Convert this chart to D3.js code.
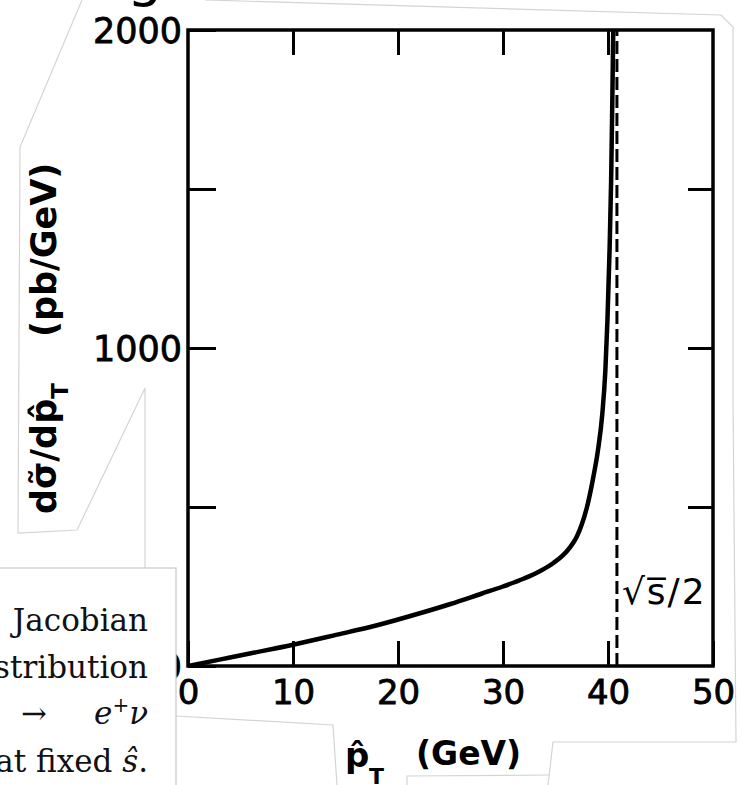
<!DOCTYPE html>
<html>
<head>
<meta charset="utf-8">
<script src="https://cdn.jsdelivr.net/npm/d3@7"></script>
<style>
  body { margin: 0; background: #fff; }
  svg { display: block; }
</style>
</head>
<body>
<div id="jacobian"></div>
<script>

// Jacobian peak of the W -> e nu transverse momentum spectrum

// Data
const xTicks = [0, 10, 20, 30, 40, 50];
const topTicks = [10, 20, 30, 40];
const yTicks = [0, 500, 1000, 1500, 2000];
const yTickLabels = [0, 1000, 2000];
const rightTicks = [500, 1000, 1500];

const ptValues = [0, 3, 6, 10, 14, 18, 22, 25, 28, 30, 32, 33.5, 34.8, 35.7, 36.4, 37.0, 37.5,
                  38.0, 38.55, 39.05, 39.45, 39.75, 39.95, 40.15, 40.3, 40.4, 40.5];
const rateValues = [0, 20, 40, 67, 97, 128, 165, 195, 228, 250, 275, 298, 324, 348, 374, 405, 445,
                    500, 585, 680, 790, 930, 1090, 1310, 1530, 1750, 2000];

// position of sqrt(s)/2
const edgeValue = 40.85;

const captionLines = ["Jacobian", "stribution"];

// Dimensions
const width = 742;
const height = 785;
const margin = {left: 188, right: 29, top: 30, bottom: 119};
const tickLen = 25;

const svg = d3.select("#jacobian")
  .append("svg")
  .attr("width", width)
  .attr("height", height);

// Scales
const xScale = d3.scaleLinear()
  .domain([0, 50])
  .range([margin.left, width - margin.right]);

const yScale = d3.scaleLinear()
  .domain([0, 2000])
  .range([height - margin.bottom, margin.top]);

/*
  faint edges of the scanned page
*/
const faint = [
  [[82, 0], [20, 147], [18, 533], [77, 530], [145, 388], [145, 568]],
  [[205, 0], [721, 15], [733, 27], [733, 400], [736, 742], [553, 742], [548, 785]],
  [[176, 716], [333, 725], [337, 785]],
  [[407, 785], [407, 776], [550, 775]]
];
svg.selectAll(".faint")
  .data(faint)
  .enter()
  .append("path")
    .attr("class", "faint")
    .attr("d", d => d3.line()(d))
    .attr("fill", "none")
    .attr("stroke", "#d4d4d4")
    .attr("stroke-width", 1.2);

// descender of a letter from the text above the figure
svg.append("text")
  .attr("x", 127)
  .attr("y", -5)
  .attr("font-family", "DejaVu Sans")
  .attr("font-size", 56)
  .text("g");

/*
  Axes
*/
const axisFont = "DejaVu Sans";

// bottom axis with labels, ticks pointing inward
const xAxis = svg.append("g")
  .attr("transform", `translate(0,${height - margin.bottom})`)
  .call(d3.axisBottom(xScale)
          .tickValues(xTicks)
          .tickSize(-tickLen)
          .tickPadding(14)
          .tickFormat(d3.format("d")));

// left axis, only 0 / 1000 / 2000 labelled
const yAxis = svg.append("g")
  .attr("transform", `translate(${margin.left},0)`)
  .call(d3.axisLeft(yScale)
          .tickValues(yTicks)
          .tickSize(-tickLen - 3)
          .tickPadding(6)
          .tickFormat(d => yTickLabels.includes(d) ? d : ""));

// top and right axes, ticks only
const topAxis = svg.append("g")
  .attr("transform", `translate(0,${margin.top})`)
  .call(d3.axisTop(xScale)
          .tickValues(topTicks)
          .tickSize(-tickLen)
          .tickFormat(""));

const rightAxis = svg.append("g")
  .attr("transform", `translate(${width - margin.right},0)`)
  .call(d3.axisRight(yScale)
          .tickValues(rightTicks)
          .tickSize(-tickLen)
          .tickFormat(""));

[xAxis, yAxis, topAxis, rightAxis].forEach(g => {
  g.select(".domain").remove();
  g.selectAll(".tick line").attr("stroke", "#000").attr("stroke-width", 3);
  g.selectAll(".tick text")
    .attr("font-family", axisFont)
    .attr("font-size", 34)
    .attr("fill", "#000")
    .attr("stroke", "#000")
    .attr("stroke-width", 0.8);
});
yAxis.selectAll(".tick text").attr("dy", "0.36em").attr("font-size", 35);

// frame
svg.append("rect")
  .attr("x", xScale(0))
  .attr("y", yScale(2000))
  .attr("width", xScale(50) - xScale(0))
  .attr("height", yScale(0) - yScale(2000))
  .attr("fill", "none")
  .attr("stroke", "#000")
  .attr("stroke-width", 3.5);

/*
  Curve and kinematic edge
*/
svg.append("clipPath")
  .attr("id", "plot-clip")
  .append("rect")
    .attr("x", xScale(0))
    .attr("y", yScale(2000))
    .attr("width", xScale(50) - xScale(0))
    .attr("height", yScale(0) - yScale(2000));

svg.append("line")
  .attr("x1", xScale(edgeValue))
  .attr("x2", xScale(edgeValue))
  .attr("y1", yScale(0))
  .attr("y2", yScale(2000))
  .attr("stroke", "#000")
  .attr("stroke-width", 3)
  .attr("stroke-dasharray", "13,5");

const curve = d3.line()
  .x(d => xScale(d[0]))
  .y(d => yScale(d[1]))
  .curve(d3.curveMonotoneX);

svg.append("path")
  .datum(ptValues.map((p, i) => [p, rateValues[i]]))
  .attr("clip-path", "url(#plot-clip)")
  .attr("d", curve)
  .attr("fill", "none")
  .attr("stroke", "#000")
  .attr("stroke-width", 4.5)
  .attr("stroke-linejoin", "round");

// sqrt(s)/2 label next to the dashed line
svg.append("text")
  .attr("x", xScale(edgeValue) + 5)
  .attr("y", 604)
  .attr("font-family", axisFont)
  .attr("font-size", 36)
  .attr("letter-spacing", 2)
  .text("\u221As\u0305/2");

/*
  Axis titles
*/
const xLabel = svg.append("g").attr("font-family", axisFont).attr("font-weight", "bold");
xLabel.append("text").attr("x", 345).attr("y", 767).attr("font-size", 34).text("p\u0302");
xLabel.append("text").attr("x", 369).attr("y", 784).attr("font-size", 22).text("T");
xLabel.append("text").attr("x", 416).attr("y", 765).attr("font-size", 33).text("(GeV)");

const yLabel = svg.append("text")
  .attr("transform", "translate(56,514) rotate(-90)")
  .attr("font-family", axisFont)
  .attr("font-weight", "bold")
  .attr("font-size", 35);
yLabel.append("tspan").text("d\u03C3\u0303/dp\u0302");
yLabel.append("tspan").attr("dy", 12).attr("font-size", 23).text("T");
yLabel.append("tspan").attr("dy", -12).attr("dx", 46).text("(pb/GeV)");

/*
  Piece of the caption that overlaps the figure
*/
svg.append("rect")
  .attr("x", -2)
  .attr("y", 568)
  .attr("width", 178)
  .attr("height", 222)
  .attr("fill", "#fff")
  .attr("stroke", "#c8c8c8")
  .attr("stroke-width", 1.2);

const caption = svg.append("g")
  .attr("font-family", "DejaVu Serif")
  .attr("font-size", 31)
  .attr("fill", "#111");

caption.selectAll(".cap")
  .data(captionLines)
  .enter()
  .append("text")
    .attr("class", "cap")
    .attr("x", 148)
    .attr("y", (d, i) => 631 + i * 47)
    .attr("text-anchor", "end")
    .text(d => d);

caption.append("text")
  .attr("x", 34)
  .attr("y", 724)
  .attr("text-anchor", "middle")
  .text("\u2192");

const decay = caption.append("text")
  .attr("x", 148)
  .attr("y", 724)
  .attr("text-anchor", "end");
decay.append("tspan").attr("font-style", "italic").text("e");
decay.append("tspan").attr("dy", -12).attr("font-size", 20).text("+");
decay.append("tspan").attr("dy", 12).attr("font-style", "italic").text("\u03BD");

const fixed = caption.append("text")
  .attr("x", 148)
  .attr("y", 772)
  .attr("text-anchor", "end");
fixed.append("tspan").text("at fixed ");
fixed.append("tspan").attr("font-style", "italic").text("s\u0302");
fixed.append("tspan").text(".");

</script>
</body>
</html>
